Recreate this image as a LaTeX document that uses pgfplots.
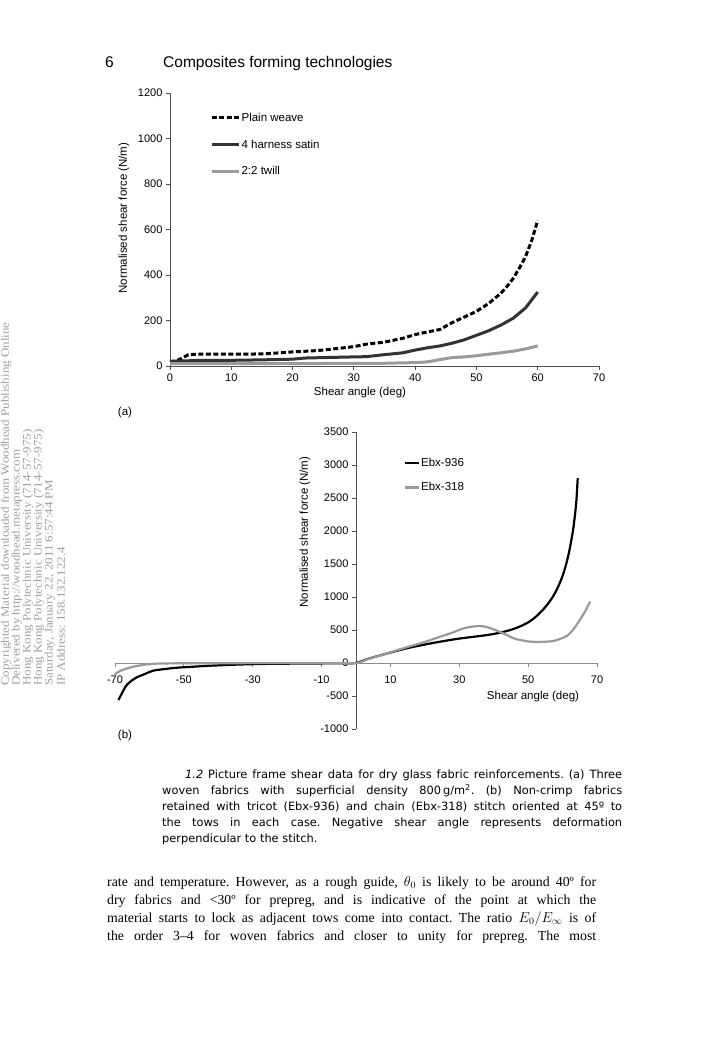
\documentclass[border=0pt]{standalone}
\usepackage{pgfplots}
\pgfplotsset{compat=1.18}
\usepackage{fontspec}
\setmainfont{Liberation Sans}
\newfontfamily\seriffont{Liberation Serif}
\newfontfamily\capfont{DejaVu Sans}
\definecolor{satin}{HTML}{333333}
\definecolor{twill}{HTML}{9A9A9A}
\definecolor{axisgray}{HTML}{505050}
\definecolor{wmgray}{HTML}{A0A0A0}
\frenchspacing
\pgfplotstableread{
x y
0 20
1 22
2 35
3 50
5 52
10 52
15 53
18 58
20 62
23 66
25 70
27 76
30 85
32 96
35 105
38 122
40 138
42 150
44 160
46 190
48 215
50 240
52 275
54 320
55 350
56 385
57 430
58 480
59 550
60 640
}\plainweave
\pgfplotstableread{
x y
0 20
2 22
5 25
10 25
15 27
20 30
22 35
25 37
30 40
32 41
35 50
38 58
40 70
42 80
44 88
46 100
48 115
50 135
52 155
54 180
56 210
58 255
59 290
60 325
}\satin
\pgfplotstableread{
x y
0 10
5 10
10 10
20 10
30 12
35 12
40 15
42 18
44 28
46 37
48 40
50 45
52 52
54 58
56 65
58 75
60 88
}\twill
\pgfplotstableread{
x y
-69 -560
-68.5 -510
-67.5 -410
-66.6 -333
-65 -260
-63.7 -217
-61 -160
-58.9 -116
-55 -88
-52 -71
-47 -55
-42.4 -41
-35 -25
-27.9 -15
-20 -10
-10 -6
-5 -4
0 0
3.1 56
8 130
14.7 222
20 280
24.4 323
30 370
36 409
40 440
43.8 485
47 540
50 615
52 690
54 790
55 850
56 915
57 990
58 1080
59 1190
60 1320
61 1490
62 1710
63 2000
63.5 2200
64 2450
64.4 2800
}\ebxa
\pgfplotstableread{
x y
-70 -180
-69.5 -150
-68.5 -120
-67 -90
-64.7 -56
-62 -30
-60 -18
-57 -8
-50 -4
-40 -3
-30 -2
-10 -2
0 0
3 50
8 130
14.7 238
20 320
24.4 398
28 460
31.2 525
34 552
36 560
38 545
40.9 490
43.8 424
46 370
49.6 330
52 320
55 322
57.3 333
59 360
61.2 409
63 500
65 651
66.5 780
68 929
}\ebxb
\begin{document}
\begin{tikzpicture}
\path[use as bounding box, fill=white] (0,0) rectangle (707pt,-1060pt);
% running head
\node[anchor=base west, inner sep=0pt, font=\fontsize{15.5}{18}\selectfont] at (105pt,-67pt) {6};
\node[anchor=base west, inner sep=0pt, font=\fontsize{15.5}{18}\selectfont] at (163pt,-67pt) {Composites forming technologies};
% watermark
\begin{scope}[every node/.style={rotate=90, anchor=west, inner sep=0pt, text=wmgray, font=\seriffont\fontsize{11.3}{13}\selectfont}]
\node at (6pt,-686pt) {\scalebox{1.15}[1]{Copyrighted Material downloaded from Woodhead Publishing Online}};
\node at (17pt,-686pt) {\scalebox{1.15}[1]{Delivered by http://woodhead.metapress.com}};
\node at (28pt,-686pt) {\scalebox{1.15}[1]{Hong Kong Polytechnic University (714-57-975)}};
\node at (39pt,-686pt) {\scalebox{1.15}[1]{Hong Kong Polytechnic University (714-57-975)}};
\node at (50pt,-686pt) {\scalebox{1.15}[1]{Saturday, January 22, 2011 6:57:44 PM}};
\node at (61pt,-686pt) {\scalebox{1.15}[1]{IP Address: 158.132.122.4}};
\end{scope}
% ---------------- chart (a)
\begin{axis}[at={(170pt,-366pt)}, anchor=south west, scale only axis,
  width=429pt, height=273pt,
  xmin=0, xmax=70, ymin=0, ymax=1200,
  enlargelimits=false, clip=false,
  axis lines=left,
  axis line style={-, axisgray, line width=0.8pt},
  tick style={axisgray, line width=0.8pt},
  tick align=outside, major tick length=4pt,
  xtick={0,10,...,70}, ytick={0,200,...,1200},
  ticklabel style={font=\fontsize{11}{13}\selectfont},
  /pgf/number format/assume math mode=true,
  /pgf/number format/1000 sep={},
  legend style={at={(axis description cs:0.093,0.933)}, anchor=north west,
    draw=none, fill=none, inner sep=0pt, row sep=14pt,
    font=\fontsize{11.5}{13}\selectfont, nodes={inner sep=1.5pt}},
  legend cell align=left,
  legend image code/.code={\draw[#1] (0pt,0pt) -- (27pt,0pt);},
]
\addplot[black, line width=3pt, dash pattern=on 5pt off 2.5pt] table {\plainweave};
\addlegendentry{Plain weave}
\addplot[satin, line width=3pt] table {\satin};
\addlegendentry{4 harness satin}
\addplot[twill, line width=3pt] table {\twill};
\addlegendentry{2:2 twill}
\end{axis}
\node[rotate=90, font=\fontsize{11.5}{13}\selectfont] at (124pt,-218pt) {Normalised shear force (N/m)};
\node[font=\fontsize{11.5}{13}\selectfont] at (360pt,-393pt) {Shear angle (deg)};
\node[font=\fontsize{11.5}{13}\selectfont] at (125pt,-413pt) {(a)};
% ---------------- chart (b)
\begin{axis}[at={(115pt,-729pt)}, anchor=south west, scale only axis,
  width=482pt, height=297pt,
  xmin=-70, xmax=70, ymin=-1000, ymax=3500,
  enlargelimits=false, clip=false,
  axis lines=middle,
  axis line style={-, axisgray, line width=0.8pt},
  x axis line style={black!45},
  tick style={axisgray, line width=0.8pt},
  xtick={-70,-50,-30,-10,10,30,50,70},
  ytick={-1000,-500,...,3500},
  hide obscured x ticks=false, hide obscured y ticks=false,
  x tick style={black!45},
  xtick align=outside, ytick align=outside, major tick length=4pt,
  ticklabel style={font=\fontsize{11}{13}\selectfont},
  xticklabel style={yshift=-5pt},
  /pgf/number format/assume math mode=true,
  /pgf/number format/1000 sep={},
  legend style={at={(axis description cs:0.598,0.919)}, anchor=north west,
    draw=none, fill=none, inner sep=0pt, row sep=12pt,
    font=\fontsize{11.5}{13}\selectfont, nodes={inner sep=1.5pt}},
  legend cell align=left,
  legend image code/.code={\draw[#1] (0pt,0pt) -- (14pt,0pt);},
]
\addplot[black, line width=2.2pt, smooth] table {\ebxa};
\addlegendentry{Ebx-936}
\addplot[twill, line width=2.2pt, smooth] table {\ebxb};
\addlegendentry{Ebx-318}
\end{axis}
\node[rotate=90, font=\fontsize{11.5}{13}\selectfont] at (305pt,-532pt) {Normalised shear force (N/m)};
\node[font=\fontsize{11.5}{13}\selectfont] at (533pt,-697pt) {Shear angle (deg)};
\node[font=\fontsize{11.5}{13}\selectfont] at (125pt,-736pt) {(b)};
% ---------------- caption
\begin{scope}[every node/.style={anchor=base west, inner sep=0pt, font=\capfont\fontsize{11.4}{13}\selectfont}]
\node at (185pt,-778pt) {\makebox[437pt][s]{\textit{1.2} Picture frame shear data for dry glass fabric reinforcements. (a) Three}};
\node at (162pt,-794pt) {\makebox[460pt][s]{woven fabrics with superficial density 800\,g/m\textsuperscript{2}. (b) Non-crimp fabrics}};
\node at (162pt,-810pt) {\makebox[460pt][s]{retained with tricot (Ebx-936) and chain (Ebx-318) stitch oriented at 45º to}};
\node at (162pt,-826pt) {\makebox[460pt][s]{the tows in each case. Negative shear angle represents deformation}};
\node at (162pt,-842pt) {perpendicular to the stitch.};
\end{scope}
% ---------------- body text
\begin{scope}[every node/.style={anchor=base west, inner sep=0pt, font=\seriffont\fontsize{13.8}{16}\selectfont}]
\node at (107pt,-886pt) {\makebox[489pt][s]{rate and temperature. However, as a rough guide, $\theta_0$ is likely to be around 40º for}};
\node at (107pt,-904pt) {\makebox[489pt][s]{dry fabrics and <30º for prepreg, and is indicative of the point at which the}};
\node at (107pt,-922pt) {\makebox[489pt][s]{material starts to lock as adjacent tows come into contact. The ratio $E_0/E_\infty$ is of}};
\node at (107pt,-940pt) {\makebox[489pt][s]{the order 3–4 for woven fabrics and closer to unity for prepreg. The most}};
\end{scope}
\end{tikzpicture}
\end{document}
